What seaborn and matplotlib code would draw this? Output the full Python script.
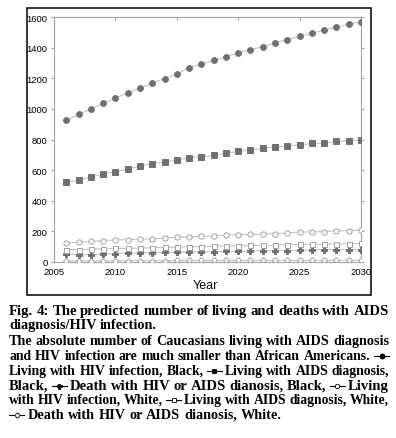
import numpy as np
import pandas as pd
import matplotlib
matplotlib.use('Agg')
import matplotlib.pyplot as plt
import seaborn as sns
from matplotlib.lines import Line2D
from matplotlib.patches import Rectangle

# Dados
years = list(range(2006, 2031))
hiv_black = [925, 964, 1000, 1036, 1071, 1104, 1136, 1169, 1198, 1226, 1270, 1292,
             1316, 1338, 1366, 1386, 1407, 1431, 1453, 1475, 1493, 1515, 1534, 1552, 1569]
aids_black = [522, 535, 555, 577, 590, 607, 627, 642, 653, 664, 681, 687,
              696, 711, 722, 733, 744, 752, 759, 765, 774, 776, 787, 791, 796]
death_black = [52, 48, 48, 52, 55, 59, 59, 61, 63, 65, 65, 67,
               67, 69, 69, 72, 74, 74, 74, 76, 80, 80, 80, 80, 80]
hiv_white = [124, 130, 134, 139, 145, 145, 150, 152, 156, 163, 163, 167,
             169, 176, 178, 180, 182, 185, 189, 195, 197, 199, 204, 204, 210]
aids_white = [80, 80, 84, 87, 89, 89, 91, 93, 95, 98, 100, 100,
              104, 104, 106, 108, 110, 110, 113, 115, 115, 117, 117, 119, 121]
death_white = [8, 8, 8, 8, 9, 9, 9, 9, 9, 10, 10, 10,
               10, 10, 10, 10, 11, 11, 11, 11, 11, 11, 12, 12, 12]

yticks = [0, 200, 400, 600, 800, 1000, 1200, 1400, 1600]
xticks = [2005, 2010, 2015, 2020, 2025, 2030]

W, H = 396, 439
fig = plt.figure(figsize=(W / 100, H / 100), dpi=100)
ax = fig.add_axes([54 / W, 1 - 263 / H, (361 - 54) / W, (263 - 18) / H])

dark = '#707070'
light = '#a0a0a0'
line_c = '#c4c4c4'

series = [
    (hiv_black, 'o', dark, dark, 4.2),
    (aids_black, 's', dark, dark, 3.8),
    (death_black, 'P', dark, dark, 3.8),
    (hiv_white, 'o', 'white', light, 3.8),
    (aids_white, 's', 'white', light, 3.6),
    (death_white, 'D', 'white', light, 3.0),
]
for vals, mk, fc, ec, ms in series:
    sns.lineplot(x=years, y=vals, ax=ax, color=line_c, linewidth=0.8,
                 marker=mk, markersize=ms, markerfacecolor=fc,
                 markeredgecolor=ec, markeredgewidth=0.7, zorder=3)

ax.set_xlim(2005, 2030)
ax.set_ylim(0, 1600)
ax.set_xticks(xticks)
ax.set_yticks(yticks)
for s in ax.spines.values():
    s.set_color('#a8a8a8')
    s.set_linewidth(0.9)
ax.tick_params(axis='y', direction='out', length=2.5, width=0.6, color='#888888',
               labelsize=6.8, pad=2, right=True)
ax.tick_params(axis='x', direction='in', length=2.5, width=0.6, color='#888888',
               labelsize=6.8, pad=3.5, top=True)
for lab in ax.get_xticklabels() + ax.get_yticklabels():
    lab.set_family('Liberation Sans')
ax.set_xlabel('')
ax.set_ylabel('')
fig.text(205 / W, 1 - 286 / H, 'Year', family='Liberation Sans', fontsize=9,
         ha='center', va='center')

# Moldura
fig.patches.append(Rectangle((27 / W, 1 - 296 / H), (371 - 27) / W, (296 - 9) / H,
                             transform=fig.transFigure, fill=False,
                             edgecolor='black', linewidth=1.1))

# Legenda/caption justificada
lines = [
    (['Fig.', '4:', 'The', 'predicted', 'number', 'of', 'living', 'and', 'deaths', 'with', 'AIDS'], True, 315),
    (['diagnosis/HIV', 'infection.'], False, 329),
    (['The', 'absolute', 'number', 'of', 'Caucasians', 'living', 'with', 'AIDS', 'diagnosis'], True, 345),
    (['and', 'HIV', 'infection', 'are', 'much', 'smaller', 'than', 'African', 'Americans.', '#0'], True, 360),
    (['Living', 'with', 'HIV', 'infection,', 'Black,', '#1', 'Living', 'with', 'AIDS', 'diagnosis,'], True, 375),
    (['Black,', '#2', 'Death', 'with', 'HIV', 'or', 'AIDS', 'dianosis,', 'Black,', '#3', 'Living'], True, 390),
    (['with', 'HIV', 'infection,', 'White,', '#4', 'Living', 'with', 'AIDS', 'diagnosis,', 'White,'], True, 404),
    (['#5', 'Death', 'with', 'HIV', 'or', 'AIDS', 'dianosis,', 'White.'], False, 419),
]
syms = [('o', 'black', 'black', 3.6), ('s', 'black', 'black', 3.4), ('P', 'black', 'black', 3.6),
        ('o', 'white', 'black', 3.2), ('s', 'white', 'black', 3.2), ('D', 'white', 'black', 2.8)]
sym_w = 15
x0, x1 = 9, 389
cap_font = dict(family='Liberation Serif', fontweight='bold')
fs_max = 11.0
fs_plain = 10.3

renderer = fig.canvas.get_renderer()


def width(word, fs):
    t = fig.text(0, 0, word, fontsize=fs, **cap_font)
    w = t.get_window_extent(renderer).width
    t.remove()
    return w


for words, just, base in lines:
    fs = fs_max if just else fs_plain
    while True:
        space = width('a a', fs) - width('aa', fs)
        ws = [sym_w if w.startswith('#') else width(w, fs) for w in words]
        gap = (x1 - x0 - sum(ws)) / (len(words) - 1) if just else space
        if gap >= 0.9 * space:
            break
        fs -= 0.1
    x = x0
    for w, wd in zip(words, ws):
        if w.startswith('#'):
            mk, fc, ec, ms = syms[int(w[1:])]
            yc = 1 - (base - 3.5) / H
            fig.lines.append(Line2D([x / W, (x + wd) / W], [yc, yc], transform=fig.transFigure,
                                    color='black', linewidth=0.8))
            fig.lines.append(Line2D([(x + wd / 2) / W], [yc], transform=fig.transFigure,
                                    marker=mk, markersize=ms, markerfacecolor=fc,
                                    markeredgecolor=ec, markeredgewidth=0.6, linestyle='none'))
        else:
            fig.text(x / W, 1 - base / H, w, fontsize=fs, ha='left', va='baseline', **cap_font)
        x += wd + gap

fig.savefig('out.png', dpi=100)
